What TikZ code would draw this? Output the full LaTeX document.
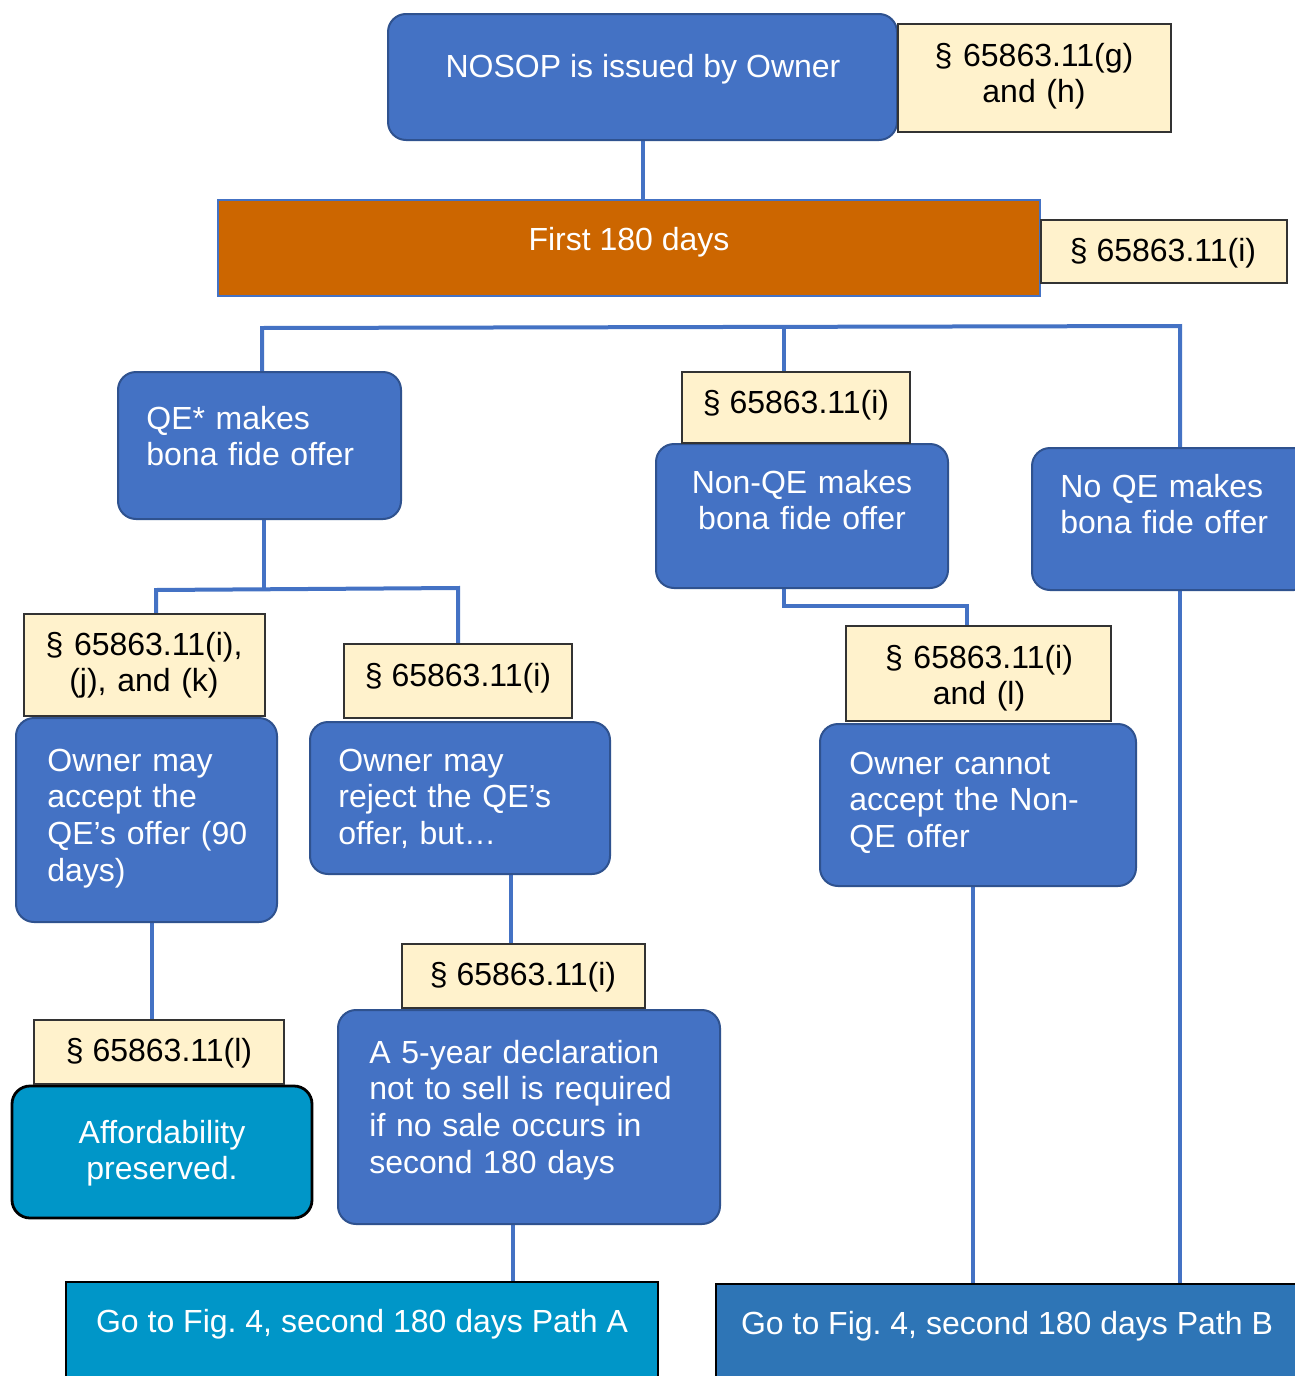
\documentclass[tikz,border=0pt]{standalone}
\usepackage{fontspec}
\setmainfont{Liberation Sans}
\usetikzlibrary{fit}
\definecolor{mblue}{HTML}{4472C4}
\definecolor{mbord}{HTML}{2F528F}
\definecolor{refy}{HTML}{FFF2CC}
\definecolor{orng}{HTML}{CC6600}
\definecolor{tealb}{HTML}{0096C8}
\definecolor{pathb}{HTML}{2E75B6}
\pgfdeclarelayer{bg}
\pgfsetlayers{bg,main}
\frenchspacing
\begin{document}
\begin{tikzpicture}[x=0.5pt,y=-0.5pt,
  bluebox/.style={rounded corners=9pt, fill=mblue, draw=mbord, line width=1pt, inner sep=0pt},
  refbox/.style={fill=refy, draw=black!80, line width=0.6pt, inner sep=0pt},
  firstbox/.style={fill=orng, draw=mblue, line width=1.4pt, inner sep=0pt},
  affbox/.style={rounded corners=9pt, fill=tealb, draw=black, line width=1.4pt, inner sep=0pt},
  gotoAbox/.style={fill=tealb, draw=black, line width=1.4pt, inner sep=0pt},
  gotoBbox/.style={fill=pathb, draw=black, line width=1.4pt, inner sep=0pt},
  wtxt/.style={text=white, inner sep=0pt, font=\fontsize{16}{18.4}\selectfont},
  btxt/.style={text=black, inner sep=0pt, font=\fontsize{16}{18.4}\selectfont},
  conn/.style={draw=mblue, line width=2pt}]
\useasboundingbox (0,0) rectangle (1295,1376);

% top
\node[bluebox, fit={(388,14)(897,140)}] (nosop) {};
\node[wtxt, anchor=base] (nosopT) at (643,77) {NOSOP is issued by Owner};
\node[refbox, fit={(898,24)(1171,132)}] (refGH) {};
\node[btxt, anchor=base, align=center, text width=130pt] (refGHT) at (1034,66) {§ 65863.11(g)\\and (h)};
\node[firstbox, fit={(218,200)(1040,296)}] (first) {};
\node[wtxt, anchor=base] (firstT) at (629,250) {First 180 days};
\node[refbox, fit={(1041,220)(1287,283)}] (refI1) {};
\node[btxt, anchor=base] (refI1T) at (1163,261) {§ 65863.11(i)};

% second row
\node[bluebox, fit={(118,372)(401,519)}] (qe) {};
\node[wtxt, anchor=base west, align=left, text width=140pt] (qeT) at (146,429) {QE* makes\\bona fide offer};
\node[bluebox, fit={(656,444)(948,588)}] (nonqe) {};
\node[wtxt, anchor=base, align=center, text width=140pt] (nonqeT) at (802,493) {Non-QE makes\\bona fide offer};
\node[refbox, fit={(682,372)(910,443)}] (refI2) {};
\node[btxt, anchor=base] (refI2T) at (796,413) {§ 65863.11(i)};
\node[bluebox, fit={(1032,448)(1312,590)}] (noqe) {};
\node[wtxt, anchor=base west, align=left, text width=130pt] (noqeT) at (1060,497) {No QE makes\\bona fide offer};

% third row
\node[bluebox, fit={(16,718)(277,922)}] (accept) {};
\node[wtxt, anchor=base west, align=left, text width=130pt] (acceptT) at (47,771) {Owner may\\accept the\\QE’s offer (90\\days)};
\node[refbox, fit={(24,614)(265,716)}] (refIJK) {};
\node[btxt, anchor=base, align=center, text width=120pt] (refIJKT) at (144,655) {§ 65863.11(i),\\(j), and (k)};
\node[bluebox, fit={(310,722)(610,874)}] (reject) {};
\node[wtxt, anchor=base west, align=left, text width=140pt] (rejectT) at (338,771) {Owner may\\reject the QE’s\\offer, but…};
\node[refbox, fit={(344,644)(572,718)}] (refI3) {};
\node[btxt, anchor=base] (refI3T) at (458,686) {§ 65863.11(i)};
\node[bluebox, fit={(820,724)(1136,886)}] (cannot) {};
\node[wtxt, anchor=base west, align=left, text width=140pt] (cannotT) at (849,774) {Owner cannot\\accept the Non-\\QE offer};
\node[refbox, fit={(846,626)(1111,721)}] (refIL) {};
\node[btxt, anchor=base, align=center, text width=130pt] (refILT) at (979,668) {§ 65863.11(i)\\and (l)};

% fourth row
\node[affbox, fit={(12,1086)(312,1218)}] (afford) {};
\node[wtxt, anchor=base, align=center, text width=140pt] (affordT) at (162,1143) {Affordability\\preserved.};
\node[refbox, fit={(34,1020)(284,1084)}] (refL) {};
\node[btxt, anchor=base] (refLT) at (159,1061) {§ 65863.11(l)};
\node[bluebox, fit={(338,1010)(720,1224)}] (five) {};
\node[wtxt, anchor=base west, align=left, text width=170pt] (fiveT) at (369,1063) {A 5-year declaration\\not to sell is required\\if no sale occurs in\\second 180 days};
\node[refbox, fit={(402,944)(645,1008)}] (refI4) {};
\node[btxt, anchor=base] (refI4T) at (523,985) {§ 65863.11(i)};

% bottom
\node[gotoAbox, fit={(66,1282)(658,1395)}] (gotoA) {};
\node[wtxt, anchor=base] (gotoAT) at (362,1332) {Go to Fig. 4, second 180 days Path A};
\node[gotoBbox, fit={(716,1284)(1315,1395)}] (gotoB) {};
\node[wtxt, anchor=base] (gotoBT) at (1007,1334) {Go to Fig. 4, second 180 days Path B};

% connectors
\begin{pgfonlayer}{bg}
\fill[white] (0,0) rectangle (1295,1376);
\coordinate (bL) at (262,328);
\coordinate (bM) at (784,327);
\coordinate (bR) at (1180,326);
\draw[conn] (nosop.south) -- (nosop.south |- first.north);
\draw[conn] (bL |- qe.north) -- (bL) -- (bR) -- (bR |- noqe.north);
\draw[conn] (bM) -- (bM |- refI2.north);
\draw[conn] (bR |- noqe.south) -- (bR |- gotoB.north);
\coordinate (q1) at (264,589);
\coordinate (jL) at (156,590);
\coordinate (jR) at (458,588);
\draw[conn] (q1 |- qe.south) -- (q1);
\draw[conn] (jL |- refIJK.north) -- (jL) -- (jR) -- (jR |- refI3.north);
\coordinate (xA) at (152,970);
\draw[conn] (xA |- accept.south) -- (xA |- refL.north);
\coordinate (xR) at (511,900);
\draw[conn] (xR |- reject.south) -- (xR |- refI4.north);
\coordinate (xF) at (513,1250);
\draw[conn] (xF |- five.south) -- (xF |- gotoA.north);
\coordinate (n1) at (784,606);
\coordinate (n2) at (967,606);
\draw[conn] (n1 |- nonqe.south) -- (n1) -- (n2) -- (n2 |- refIL.north);
\coordinate (xC) at (973,1000);
\draw[conn] (xC |- cannot.south) -- (xC |- gotoB.north);
\end{pgfonlayer}
\end{tikzpicture}
\end{document}
